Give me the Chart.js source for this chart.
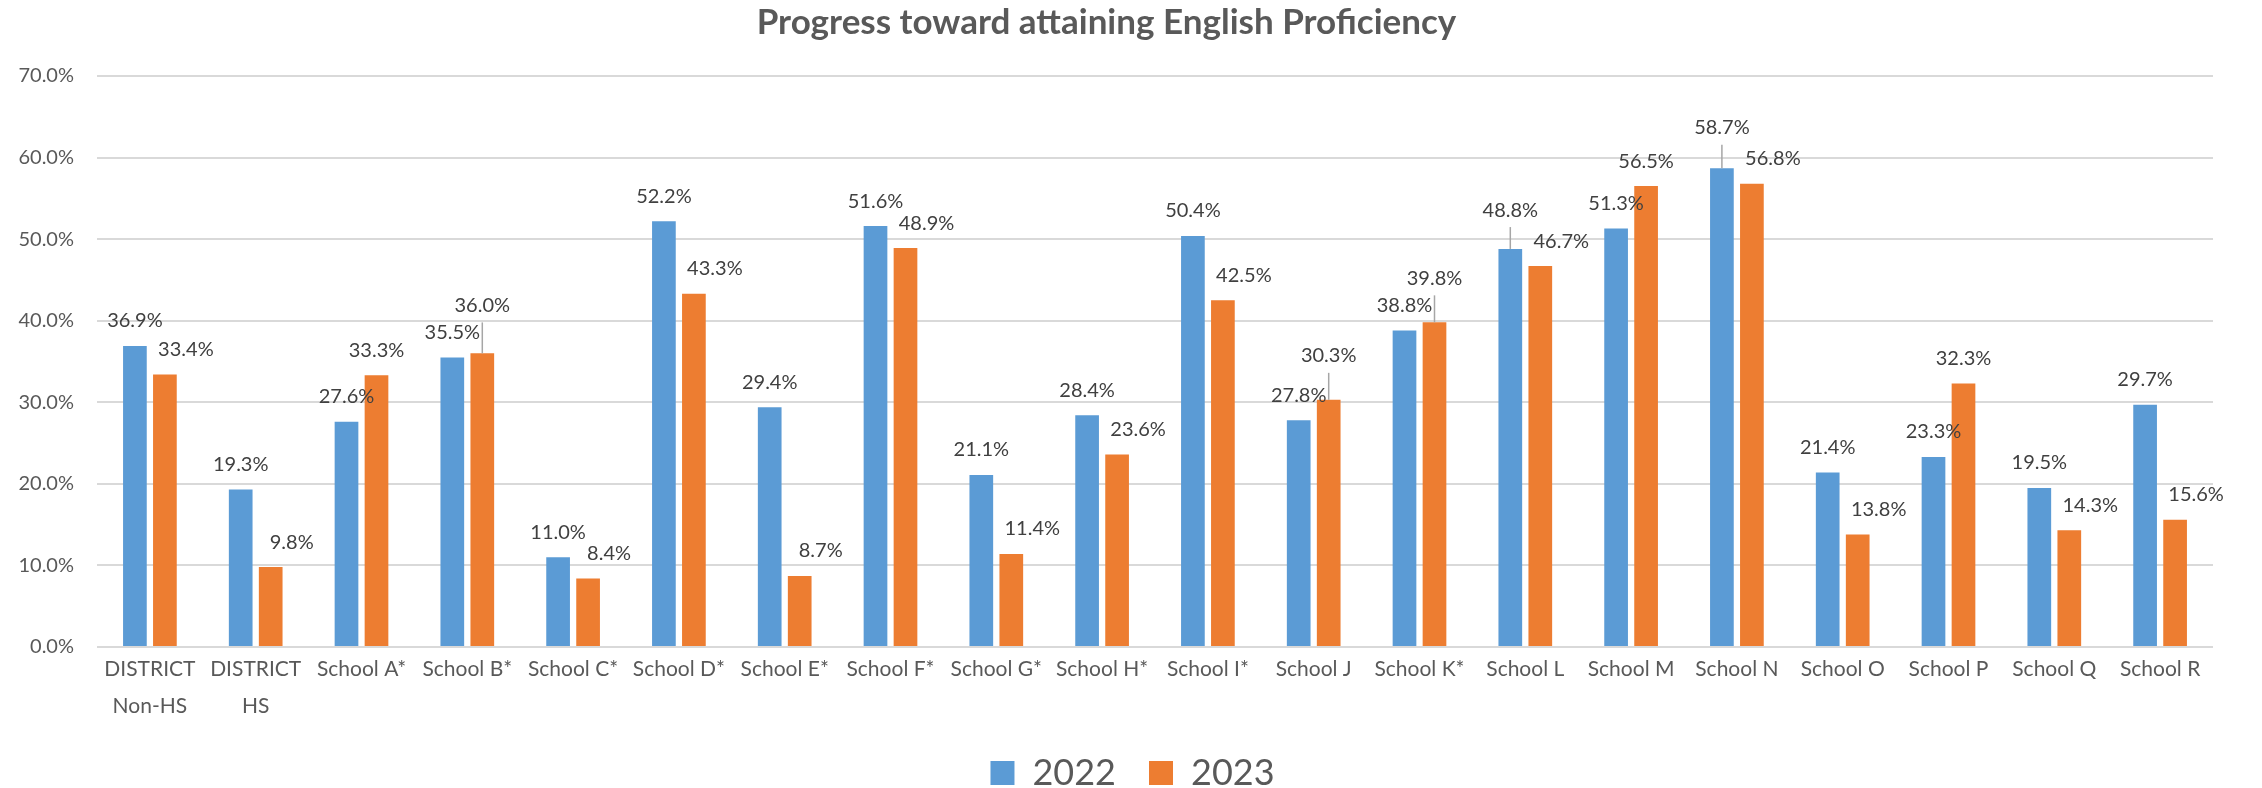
<!DOCTYPE html>
<html>
<head>
<meta charset="utf-8">
<script src="https://cdn.jsdelivr.net/npm/chart.js@4.4.1/dist/chart.umd.min.js"></script>
<style>
  html, body { margin: 0; padding: 0; background: #fff; }
  #wrap { width: 2262px; height: 788px; }
</style>
</head>
<body>
<div id="wrap"><canvas id="chart" width="2262" height="788"></canvas></div>
<script>
// ----------------------------
// Data
// ----------------------------
const schools = [
  ["DISTRICT", "Non-HS"], ["DISTRICT", "HS"], "School A*", "School B*", "School C*",
  "School D*", "School E*", "School F*", "School G*", "School H*", "School I*",
  "School J", "School K*", "School L", "School M", "School N", "School O",
  "School P", "School Q", "School R"
];
const years = ["2022", "2023"];
const values2022 = [36.9, 19.3, 27.6, 35.5, 11.0, 52.2, 29.4, 51.6, 21.1, 28.4, 50.4, 27.8, 38.8, 48.8, 51.3, 58.7, 21.4, 23.3, 19.5, 29.7];
const values2023 = [33.4, 9.8, 33.3, 36.0, 8.4, 43.3, 8.7, 48.9, 11.4, 23.6, 42.5, 30.3, 39.8, 46.7, 56.5, 56.8, 13.8, 32.3, 14.3, 15.6];
const yMax = 70;
const yStep = 10;

const pct = (v) => v.toFixed(1) + "%";
const legendPad = 33;

// ----------------------------
// Data labels (Excel style, with leader lines when moved)
// ----------------------------
const barLabels = {
  id: "barLabels",
  afterLayout(chart) {
    // nudge legend to sit where Excel put it
    chart.legend.left += 26;
    chart.legend.right += 26;
  },
  afterDatasetsDraw(chart) {
    const ctx = chart.ctx;
    const barsA = chart.getDatasetMeta(0).data;
    const barsB = chart.getDatasetMeta(1).data;
    const dsA = chart.data.datasets[0].data;
    const dsB = chart.data.datasets[1].data;
    ctx.save();
    ctx.font = "20px Lato";
    ctx.fillStyle = "#404040";
    ctx.textAlign = "center";
    ctx.textBaseline = "middle";
    ctx.strokeStyle = "#a6a6a6";
    ctx.lineWidth = 1.5;

    barsA.forEach((barA, i) => {
      const barB = barsB[i];
      const a = { x: barA.x, y: barA.y - 25, top: barA.y, text: pct(dsA[i]) };
      const b = { x: barB.x, y: barB.y - 25, top: barB.y, text: pct(dsB[i]) };
      const gap = b.y - a.y;
      if (gap > 0) {
        b.x += 21;
        if (gap < 19) a.y = b.y - 31;
      } else if (-gap < 26) {
        b.y = Math.min(b.top - 44, a.y - 27);
      }
      [a, b].forEach((p) => {
        if (p.top - p.y > 30) {
          ctx.beginPath();
          ctx.moveTo(p.x, p.top);
          ctx.lineTo(p.x, p.y + 17);
          ctx.stroke();
        }
        ctx.fillText(p.text, p.x, p.y);
      });
    });
    ctx.restore();
  }
};

// ----------------------------
// Chart
// ----------------------------
new Chart(document.getElementById("chart"), {
  type: "bar",
  data: {
    labels: schools,
    datasets: [
      { label: years[0], data: values2022, backgroundColor: "#5b9bd5" },
      { label: years[1], data: values2023, backgroundColor: "#ed7d31" }
    ]
  },
  options: {
    responsive: false,
    animation: false,
    layout: { padding: { left: 0, right: 49, top: 0, bottom: -13 } },
    datasets: {
      bar: { categoryPercentage: 0.567, barPercentage: 0.79 }
    },
    plugins: {
      title: {
        display: true,
        text: "Progress toward attaining English Proficiency",
        color: "#595959",
        font: { family: "Lato", size: 35, weight: "bold", lineHeight: 1.2 },
        padding: { top: 2, bottom: 32 }
      },
      legend: {
        position: "bottom",
        labels: {
          color: "#595959",
          font: { family: "Lato", size: 36 },
          boxWidth: 24,
          boxHeight: 24,
          padding: legendPad
        }
      },
      tooltip: { enabled: false }
    },
    scales: {
      x: {
        grid: { display: false, drawTicks: false },
        border: { display: false },
        ticks: {
          color: "#595959",
          font: { family: "Lato", size: 21, lineHeight: 1.76 },
          padding: 4,
          maxRotation: 0,
          autoSkip: false
        },
        afterFit(scale) { scale.height = 108 - legendPad; }
      },
      y: {
        min: 0,
        max: yMax,
        grid: { color: "#d9d9d9", lineWidth: 2, drawTicks: false },
        border: { display: false },
        ticks: {
          stepSize: yStep,
          color: "#595959",
          font: { family: "Lato", size: 20 },
          padding: 23,
          callback: (v) => pct(v)
        },
        afterFit(scale) { scale.width = 97; }
      }
    }
  },
  plugins: [barLabels]
});
</script>
</body>
</html>
